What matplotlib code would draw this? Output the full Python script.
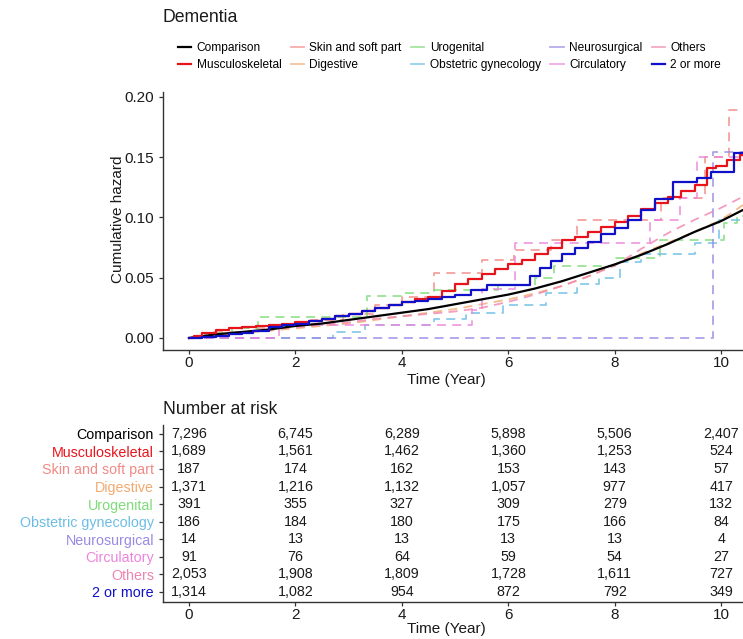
import numpy as np
import matplotlib
matplotlib.use("Agg")
import matplotlib.pyplot as plt
from matplotlib.lines import Line2D

plt.rcParams['font.family'] = ['Liberation Sans', 'DejaVu Sans']

groups = ['Comparison', 'Musculoskeletal', 'Skin and soft part', 'Digestive', 'Urogenital',
          'Obstetric gynecology', 'Neurosurgical', 'Circulatory', 'Others', '2 or more']
colors = ['#000000', '#E8141C', '#F28A86', '#F2AA70', '#7EDC7A',
          '#6CBDE6', '#9A8AE4', '#EC84DC', '#F084B0', '#1010C8']
solid = [True, True, False, False, False, False, False, False, False, True]
# large groups have many tiny steps -> drawn as a smooth path
smooth = [True, False, False, True, False, False, False, False, True, False]

# cumulative hazard curves (time in years, value)
t_comp = [0, 0.5, 1, 1.5, 2, 2.5, 3, 3.5, 4, 4.5, 5, 5.5, 6, 6.5, 7, 7.5, 8, 8.5, 9, 9.5, 10, 10.4]
v_comp = [0, 0.003, 0.005, 0.007, 0.010, 0.012, 0.015, 0.018, 0.021, 0.024, 0.028, 0.032, 0.036,
          0.041, 0.047, 0.054, 0.061, 0.069, 0.078, 0.088, 0.097, 0.106]

t_musc = [0, 0.1, 0.25, 0.5, 0.75, 1, 1.25, 1.5, 1.75, 2, 2.25, 2.5, 2.75, 3, 3.25, 3.5, 3.75, 4,
          4.25, 4.5, 4.75, 5, 5.25, 5.5, 5.75, 6, 6.25, 6.5, 6.75, 7, 7.25, 7.5, 7.75, 8, 8.25, 8.5,
          8.75, 9, 9.25, 9.5, 9.73, 9.9, 10.1, 10.35]
v_musc = [0, 0.002, 0.004, 0.007, 0.008, 0.009, 0.010, 0.011, 0.012, 0.013, 0.014, 0.016, 0.018,
          0.020, 0.022, 0.025, 0.027, 0.030, 0.032, 0.034, 0.039, 0.045, 0.049, 0.053, 0.057, 0.061,
          0.065, 0.070, 0.075, 0.081, 0.084, 0.088, 0.092, 0.096, 0.101, 0.107, 0.112, 0.117, 0.122,
          0.127, 0.141, 0.143, 0.148, 0.152]

t_skin = [0, 0.4, 1.0, 1.6, 2.3, 2.9, 3.5, 4.0, 4.6, 5.5, 6.1, 6.8, 7.3, 8.87, 9.7, 10.15]
v_skin = [0, 0.005, 0.008, 0.011, 0.015, 0.020, 0.027, 0.034, 0.054, 0.065, 0.073, 0.081, 0.098,
          0.116, 0.150, 0.189]

t_dige = [0, 0.5, 1, 1.5, 2, 2.5, 3, 3.5, 4, 4.5, 5, 5.5, 6, 6.5, 7, 7.5, 8, 8.5, 9, 9.5, 10, 10.4]
v_dige = [0, 0.002, 0.004, 0.006, 0.008, 0.010, 0.012, 0.015, 0.018, 0.021, 0.024, 0.028, 0.032,
          0.037, 0.043, 0.051, 0.061, 0.070, 0.079, 0.088, 0.098, 0.110]

t_urog = [0, 0.3, 0.8, 1.3, 3.35, 4.0, 4.6, 5.8, 6.5, 6.85, 8.0, 8.85, 10.05, 10.3]
v_urog = [0, 0.004, 0.008, 0.017, 0.035, 0.037, 0.040, 0.044, 0.050, 0.060, 0.066, 0.081, 0.095, 0.101]

t_obst = [0, 2.7, 3.3, 4.6, 5.2, 5.9, 6.7, 7.3, 7.7, 8.1, 8.5, 9.5, 9.95]
v_obst = [0, 0.005, 0.011, 0.016, 0.021, 0.027, 0.037, 0.045, 0.050, 0.063, 0.070, 0.079, 0.098]

t_neur = [0, 9.85]
v_neur = [0, 0.154]

t_circ = [0, 1.7, 5.32, 5.5, 6.13, 8.67, 9.23, 9.55]
v_circ = [0, 0.011, 0.023, 0.041, 0.079, 0.098, 0.116, 0.150]

t_othe = [0, 0.5, 1, 1.5, 2, 2.5, 3, 3.5, 4, 4.5, 5, 5.5, 6, 6.5, 7, 7.5, 8, 8.5, 9, 9.5, 10, 10.4]
v_othe = [0, 0.003, 0.005, 0.007, 0.009, 0.011, 0.013, 0.016, 0.018, 0.020, 0.022, 0.025, 0.030,
          0.036, 0.043, 0.051, 0.060, 0.074, 0.087, 0.098, 0.108, 0.117]

t_two = [0, 0.25, 0.5, 0.75, 1, 1.2, 1.5, 1.75, 2, 2.25, 2.5, 2.75, 3, 3.25, 3.5, 3.75, 4, 4.25, 4.5,
         4.75, 5, 5.3, 5.6, 6.2, 6.4, 6.6, 6.8, 7, 7.25, 7.5, 7.75, 8, 8.25, 8.5, 8.75, 9.1, 9.55,
         9.8, 10.25]
v_two = [0, 0.001, 0.002, 0.003, 0.004, 0.006, 0.009, 0.011, 0.012, 0.014, 0.016, 0.018, 0.020,
         0.022, 0.025, 0.027, 0.030, 0.031, 0.032, 0.034, 0.036, 0.040, 0.044, 0.044, 0.051, 0.058,
         0.064, 0.070, 0.075, 0.080, 0.086, 0.091, 0.098, 0.106, 0.115, 0.129, 0.133, 0.138, 0.153]

curves = [(t_comp, v_comp), (t_musc, v_musc), (t_skin, v_skin), (t_dige, v_dige), (t_urog, v_urog),
          (t_obst, v_obst), (t_neur, v_neur), (t_circ, v_circ), (t_othe, v_othe), (t_two, v_two)]
t_end = 10.45

# number at risk
risk_times = [0, 2, 4, 6, 8, 10]
risk = [
    ['7,296', '6,745', '6,289', '5,898', '5,506', '2,407'],
    ['1,689', '1,561', '1,462', '1,360', '1,253', '524'],
    ['187', '174', '162', '153', '143', '57'],
    ['1,371', '1,216', '1,132', '1,057', '977', '417'],
    ['391', '355', '327', '309', '279', '132'],
    ['186', '184', '180', '175', '166', '84'],
    ['14', '13', '13', '13', '13', '4'],
    ['91', '76', '64', '59', '54', '27'],
    ['2,053', '1,908', '1,809', '1,728', '1,611', '727'],
    ['1,314', '1,082', '954', '872', '792', '349'],
]

W, H = 743, 639
fig = plt.figure(figsize=(W / 100, H / 100), dpi=100)
xlim = (-0.489, 10.41)
axc = '#333333'
txt = '#1a1a1a'


def style(ax):
    for s in ['top', 'right']:
        ax.spines[s].set_visible(False)
    for s in ['left', 'bottom']:
        ax.spines[s].set_color(axc)
        ax.spines[s].set_linewidth(1.0)
    ax.tick_params(colors=axc, length=3, width=0.9, labelsize=11, labelcolor=txt)
    ax.tick_params(axis='x', pad=1.5)


ax = fig.add_axes([163 / W, 1 - 350 / H, 1 - 163 / W, 258 / H])
style(ax)
# dashed groups underneath, solid ones on top
order = [i for i in range(10) if not solid[i]] + [0, 1, 9]
for i in order:
    t, v = curves[i]
    tt = list(t) + [t_end]
    vv = list(v) + [v[-1]]
    ds = 'default' if smooth[i] else 'steps-post'
    if solid[i]:
        ax.plot(tt, vv, drawstyle=ds, color=colors[i], lw=1.6, zorder=3)
    else:
        ax.plot(tt, vv, drawstyle=ds, color=colors[i], lw=1.3, alpha=0.8,
                dashes=(5, 3.5), zorder=2)
ax.set_xlim(*xlim)
ax.set_ylim(-0.00996, 0.204)
ax.set_xticks([0, 2, 4, 6, 8, 10])
ax.set_yticks([0, 0.05, 0.10, 0.15, 0.20])
ax.set_yticklabels(['0.00', '0.05', '0.10', '0.15', '0.20'])

fig.text(163 / W, 1 - 18 / H, 'Dementia', fontsize=12.7, va='center', ha='left', color=txt)
fig.text(118 / W, 1 - 219 / H, 'Cumulative hazard', fontsize=11, rotation=90, va='center',
         ha='center', color=txt)
fig.text(446 / W, 1 - 380 / H, 'Time (Year)', fontsize=11, va='center', ha='center', color=txt)

handles = []
for i in range(10):
    if solid[i]:
        handles.append(Line2D([], [], color=colors[i], lw=1.6))
    else:
        handles.append(Line2D([], [], color=colors[i], lw=1.3, alpha=0.7))
fig.legend(handles, groups, loc='upper left', bbox_to_anchor=(178 / W, 1 - 42 / H), ncol=5,
           frameon=False, fontsize=8.6, handlelength=1.1, handletextpad=0.45, columnspacing=0.8,
           labelspacing=0.42, borderaxespad=0, borderpad=0)

# risk table
ax2 = fig.add_axes([163 / W, 1 - 602 / H, 1 - 163 / W, 177 / H])
style(ax2)
ax2.set_xlim(*xlim)
ax2.set_ylim(-0.57, 9.5)
ax2.set_xticks([0, 2, 4, 6, 8, 10])
ax2.set_yticks([9 - i for i in range(10)])
ax2.set_yticklabels(groups, fontsize=10.3)
for lab, c in zip(ax2.get_yticklabels(), colors):
    lab.set_color(c)
for i, row in enumerate(risk):
    for t, s in zip(risk_times, row):
        ax2.text(t, 9 - i, s, ha='center', va='center', fontsize=10.3, color=txt)

fig.text(163 / W, 1 - 409 / H, 'Number at risk', fontsize=12.7, va='center', ha='left', color=txt)
fig.text(446 / W, 1 - 629 / H, 'Time (Year)', fontsize=11, va='center', ha='center', color=txt)

fig.savefig('out.png', dpi=100)
